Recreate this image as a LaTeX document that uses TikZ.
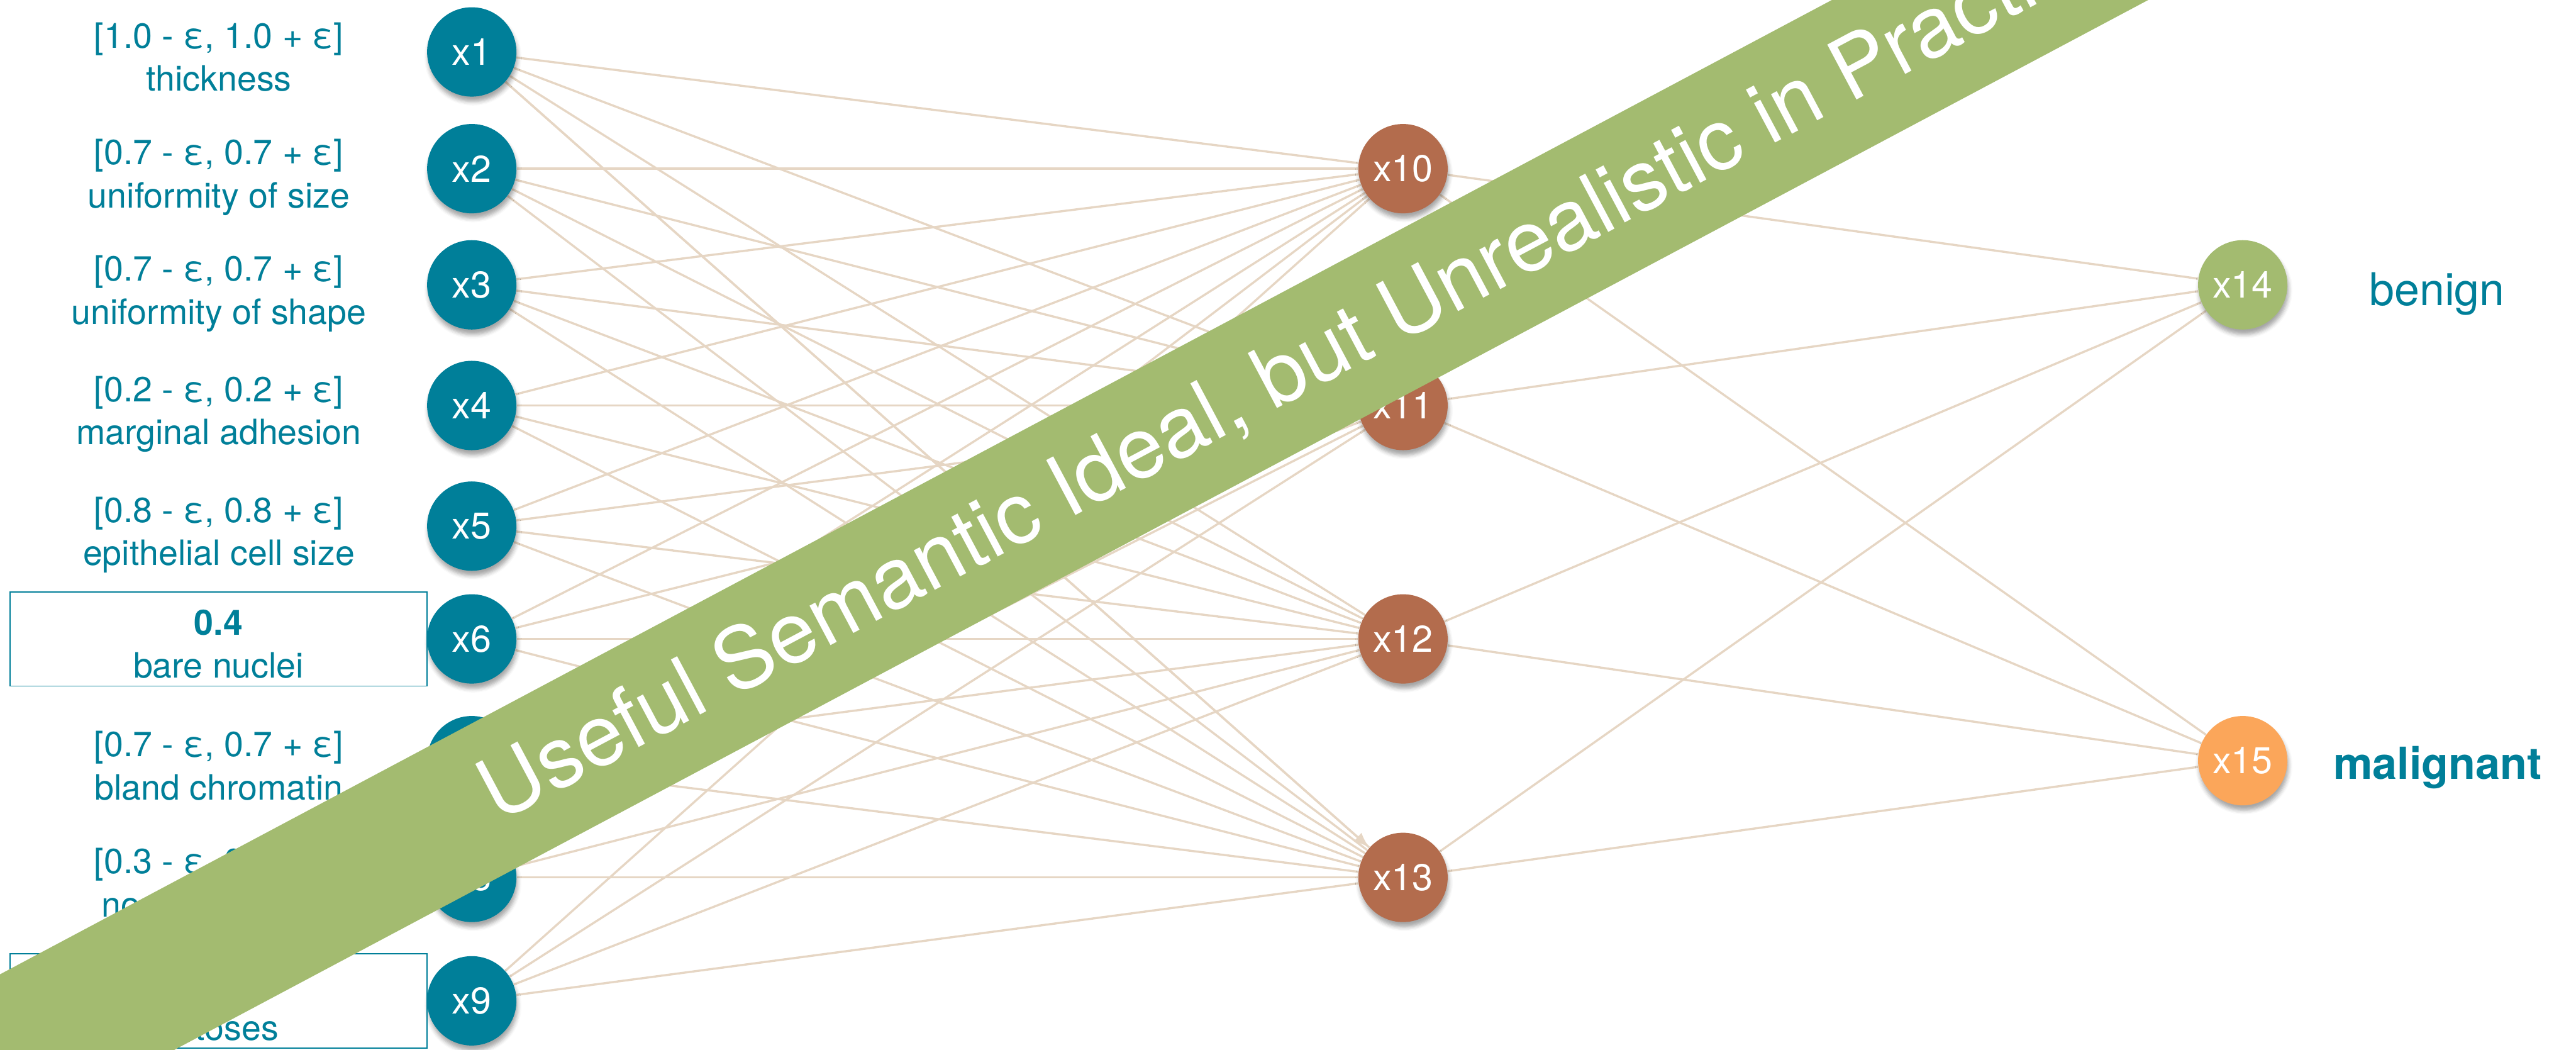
\documentclass[tikz,border=0pt]{standalone}
\usepackage{fontspec}
\setmainfont{TeX Gyre Heros}
\usepackage{tikz}
\usetikzlibrary{arrows.meta}
\usetikzlibrary{backgrounds}
\usetikzlibrary{shadows.blur}

\definecolor{inteal}{HTML}{007F99}
\definecolor{hidbrown}{HTML}{B36C4D}
\definecolor{outgreen}{HTML}{A3BB70}
\definecolor{outorange}{HTML}{FBA65A}
\definecolor{wire}{HTML}{E6D6C4}

\newcommand{\featlbl}[2]{\rule{0pt}{22pt}#1\\#2\rule[-4pt]{0pt}{4pt}}

\tikzset{
    neuron/.style={circle,minimum size=1.6cm,inner sep=0pt,text=white,
        font=\fontsize{19}{22}\selectfont,
        blur shadow={shadow xshift=0.2mm,shadow yshift=-0.9mm,shadow opacity=35,shadow blur radius=0.7mm}},
    feat/.style={align=center,inner sep=0pt,text=inteal,font=\fontsize{17.8}{22}\selectfont},
    featbox/.style={feat,draw=inteal,line width=0.6pt,minimum width=7.47cm,minimum height=1.68cm},
    wireline/.style={draw=wire,line width=1.1pt},
    banner/.style={fill=outgreen,text=white,inner sep=0pt,minimum width=56cm,minimum height=2.66cm,
        font=\fontsize{43.5}{50}\selectfont}
}

\begin{document}
\begin{tikzpicture}[x=1cm,y=-1cm,>=Latex]
    \useasboundingbox (0,0) rectangle (46.14,18.79);
    \clip (0,0) rectangle (46.14,18.79);
    \foreach \i/\y in {1/0.93,2/3.02,3/5.10,4/7.26,5/9.42,6/11.44,7/13.62,8/15.71,9/17.92}
        \node[neuron,fill=inteal] (x\i) at (8.45,\y) {x\i};
    \foreach \i/\y in {10/3.02,11/7.26,12/11.44,13/15.71}
        \node[neuron,fill=hidbrown] (x\i) at (25.13,\y) {x\i};
    \node[neuron,fill=outgreen] (x14) at (40.17,5.10) {x14};
    \node[neuron,fill=outorange] (x15) at (40.17,13.62) {x15};
    \node[feat] (f1) at (3.92,0.93) {\featlbl{[1.0 - ε, 1.0 + ε]}{thickness}};
    \node[feat] (f2) at (3.92,3.02) {\featlbl{[0.7 - ε, 0.7 + ε]}{uniformity of size}};
    \node[feat] (f3) at (3.92,5.10) {\featlbl{[0.7 - ε, 0.7 + ε]}{uniformity of shape}};
    \node[feat] (f4) at (3.92,7.26) {\featlbl{[0.2 - ε, 0.2 + ε]}{marginal adhesion}};
    \node[feat] (f5) at (3.92,9.42) {\featlbl{[0.8 - ε, 0.8 + ε]}{epithelial cell size}};
    \node[featbox] (f6) at (3.915,11.44) {\featlbl{\textbf{0.4}}{bare nuclei}};
    \node[feat] (f7) at (3.92,13.62) {\featlbl{[0.7 - ε, 0.7 + ε]}{bland chromatin}};
    \node[feat] (f8) at (3.92,15.71) {\featlbl{[0.3 - ε, 0.3 + ε]}{normal nucleoli}};
    \node[featbox] (f9) at (3.915,17.92) {\featlbl{\textbf{0.1}}{mitoses}};
    \node[anchor=base,text=inteal,font=\fontsize{23}{26}\selectfont] (benign) at (43.65,5.47) {benign};
    \node[anchor=base,text=inteal,font=\fontsize{22.5}{26}\selectfont\bfseries] (malignant) at (43.66,13.95) {malignant};
    \begin{scope}[on background layer]
        \foreach \i in {1,...,9}
            \foreach \h in {10,...,13}
                \draw[wireline] (x\i) -- (x\h);
        \foreach \h in {10,...,13}
            \foreach \o in {14,15}
                \draw[wireline] (x\h) -- (x\o);
        \draw[wireline,->] (x1) -- (x13);
    \end{scope}
    \node[banner,rotate=28] (strap) at (23.25,6.59) {Useful Semantic Ideal, but Unrealistic in Practice};
\end{tikzpicture}
\end{document}
